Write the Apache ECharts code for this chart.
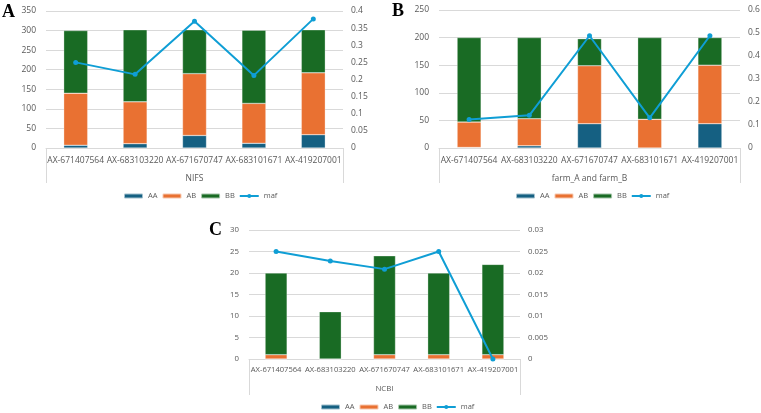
<!DOCTYPE html>
<html>
<head>
<meta charset="utf-8">
<script src="https://cdn.jsdelivr.net/npm/echarts@6/dist/echarts.min.js"></script>
<style>
  html, body { margin: 0; padding: 0; background: #fff; }
  #chart { width: 761px; height: 413px; }
</style>
</head>
<body>
<div id="chart"></div>
<script>
// marker names, shared by the three panels
const categories = ['AX-671407564', 'AX-683103220', 'AX-671670747', 'AX-683101671', 'AX-419207001'];

// A: NIFS
const nifsAA = [7, 11, 32, 12, 34];
const nifsAB = [133, 107, 158, 102, 158];
const nifsBB = [160, 184, 112, 187, 110];
const nifsMaf = [0.25, 0.215, 0.37, 0.212, 0.377];

// B: farm_A and farm_B
const farmAA = [1, 4, 44, 0, 44];
const farmAB = [46, 49, 105, 52, 106];
const farmBB = [153, 147, 49, 148, 50];
const farmMaf = [0.124, 0.142, 0.488, 0.131, 0.488];

// C: NCBI
const ncbiAA = [0, 0, 0, 0, 0];
const ncbiAB = [1, 0, 1, 1, 1];
const ncbiBB = [19, 11, 23, 19, 21];
const ncbiMaf = [0.025, 0.0228, 0.0209, 0.025, 0];

// axis ranges [min, max, interval]
const nifsCountAxis = [0, 350, 50];
const nifsMafAxis = [0, 0.4, 0.05];
const farmCountAxis = [0, 250, 50];
const farmMafAxis = [0, 0.6, 0.1];
const ncbiCountAxis = [0, 30, 5];
const ncbiMafAxis = [0, 0.03, 0.005];

const groupNames = ['NIFS', 'farm_A and farm_B', 'NCBI'];

const COLORS = { AA: '#156082', AB: '#E97132', BB: '#196B24', maf: '#0F9ED5' };
const FONT = 'Open Sans';
const TEXT = '#595959';
const GRIDLINE = '#D9D9D9';

const chart = echarts.init(document.getElementById('chart'));

function catAxis(gridIndex, fs, margin) {
  return {
    type: 'category',
    gridIndex,
    data: categories,
    axisLine: { lineStyle: { color: GRIDLINE } },
    axisTick: { show: false },
    axisLabel: { interval: 0, margin, color: TEXT, fontSize: fs, fontFamily: FONT }
  };
}

function groupAxis(gridIndex, name, tickLen, fs) {
  return {
    type: 'category',
    gridIndex,
    data: [name],
    position: 'bottom',
    axisLine: { show: false },
    axisTick: { show: true, length: tickLen, lineStyle: { color: GRIDLINE } },
    axisLabel: { margin: 26, color: TEXT, fontSize: fs, fontFamily: FONT }
  };
}

function countAxis(gridIndex, range, fs) {
  return {
    type: 'value',
    gridIndex,
    position: 'left',
    min: range[0], max: range[1], interval: range[2],
    axisLine: { show: false },
    axisTick: { show: false },
    splitLine: { lineStyle: { color: GRIDLINE } },
    axisLabel: { margin: 10, color: TEXT, fontSize: fs, fontFamily: FONT }
  };
}

function mafAxis(gridIndex, range, fs) {
  return {
    type: 'value',
    gridIndex,
    position: 'right',
    min: range[0], max: range[1], interval: range[2],
    axisLine: { show: false },
    axisTick: { show: false },
    splitLine: { show: false },
    axisLabel: { margin: 8, color: TEXT, fontSize: fs, fontFamily: FONT }
  };
}

function panelSeries(idx, aa, ab, bb, maf, barWidth) {
  const stack = 'stack' + idx;
  const bar = (name, data) => ({
    name, type: 'bar', stack, data, barWidth,
    xAxisIndex: idx * 2, yAxisIndex: idx * 2,
    itemStyle: { color: COLORS[name], borderColor: 'rgba(255,255,255,0.6)', borderWidth: 0.5 }
  });
  return [
    bar('AA', aa),
    bar('AB', ab),
    bar('BB', bb),
    {
      name: 'maf', type: 'line', data: maf,
      xAxisIndex: idx * 2, yAxisIndex: idx * 2 + 1,
      symbol: 'circle', symbolSize: 5, z: 5,
      itemStyle: { color: COLORS.maf },
      lineStyle: { color: COLORS.maf, width: 2 }
    }
  ];
}

function legend(left, top) {
  return {
    left, top,
    padding: 0,
    data: ['AA', 'AB', 'BB', 'maf'],
    itemWidth: 19, itemHeight: 5, itemGap: 4,
    textStyle: { color: TEXT, fontSize: 7.5, fontFamily: FONT }
  };
}

const panelLabel = (text, left, top) => ({
  type: 'text', left, top,
  style: { text, font: 'bold 18px "Liberation Serif"', fill: '#000' }
});

chart.setOption({
  animation: false,
  grid: [
    { left: 46, right: 418, top: 11, bottom: 265, outerBoundsMode: 'none' },
    { left: 439, right: 21, top: 10, bottom: 265, outerBoundsMode: 'none' },
    { left: 249, right: 241, top: 230, bottom: 54, outerBoundsMode: 'none' }
  ],
  xAxis: [
    catAxis(0, 8.5, 8), groupAxis(0, groupNames[0], 35, 8.5),
    catAxis(1, 8.5, 8), groupAxis(1, groupNames[1], 35, 8.5),
    catAxis(2, 7.6, 7), groupAxis(2, groupNames[2], 36, 7.8)
  ],
  yAxis: [
    countAxis(0, nifsCountAxis, 8.5), mafAxis(0, nifsMafAxis, 8.5),
    countAxis(1, farmCountAxis, 8.5), mafAxis(1, farmMafAxis, 8.5),
    countAxis(2, ncbiCountAxis, 7.8), mafAxis(2, ncbiMafAxis, 7.8)
  ],
  legend: [legend(123, 192), legend(515, 192), legend(320, 403)],
  series: [
    ...panelSeries(0, nifsAA, nifsAB, nifsBB, nifsMaf, 24),
    ...panelSeries(1, farmAA, farmAB, farmBB, farmMaf, 24),
    ...panelSeries(2, ncbiAA, ncbiAB, ncbiBB, ncbiMaf, 22)
  ],
  graphic: [
    panelLabel('A', 2, 3),
    panelLabel('B', 392, 2),
    panelLabel('C', 209, 221)
  ]
});
</script>
</body>
</html>
